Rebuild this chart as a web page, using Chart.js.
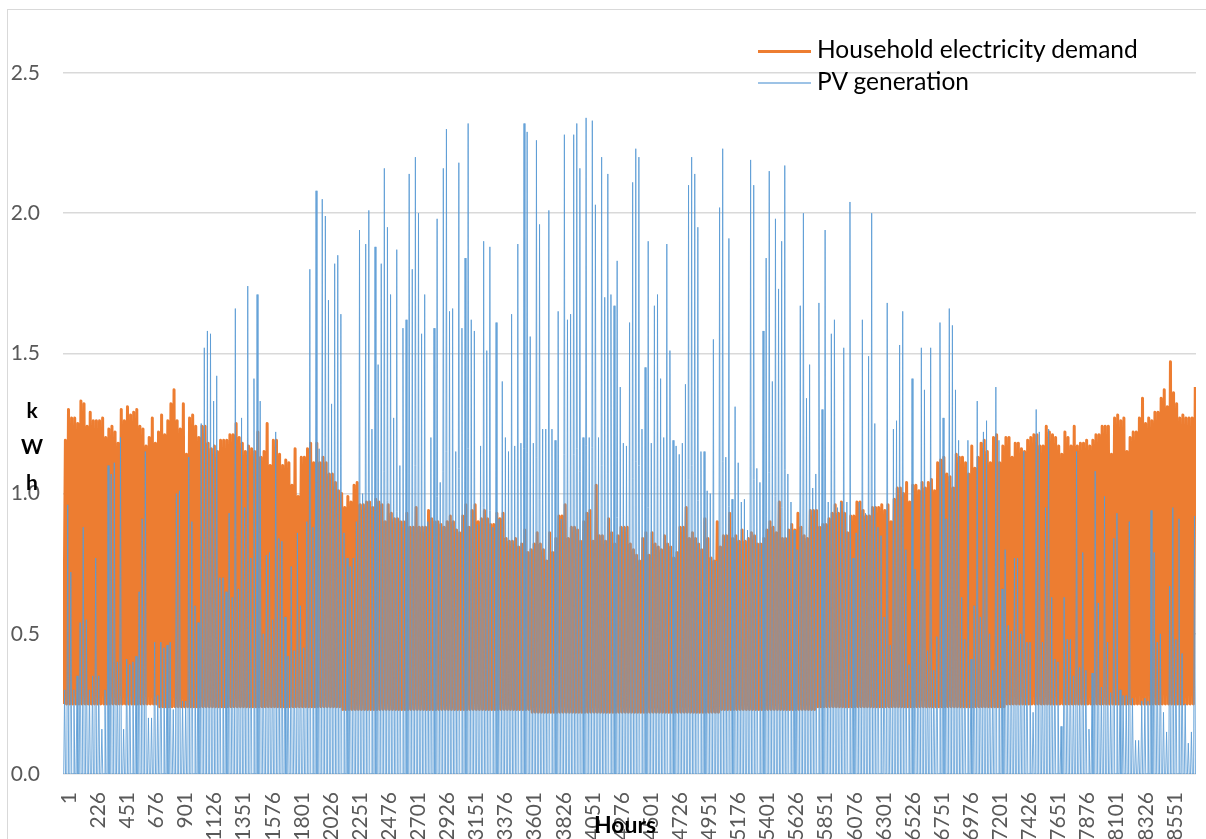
<!DOCTYPE html>
<html>
<head>
<meta charset="utf-8">
<script src="https://cdn.jsdelivr.net/npm/chart.js@4.4.0/dist/chart.umd.min.js"></script>
<style>
  body { margin: 0; background: #fff; }
  #wrap { position: relative; width: 1206px; height: 839px; overflow: hidden; font-family: Lato, "Open Sans", sans-serif; }
  #frame { position: absolute; left: 7px; top: 9px; width: 1300px; height: 900px; border: 1px solid #d9d9d9; }
  canvas { position: absolute; left: 0; top: 0; }
  .swatch { position: absolute; left: 758px; width: 53px; }
  .lgtext { position: absolute; left: 817px; font-size: 24.5px; line-height: 26px; color: #000; white-space: nowrap; }
  #ytitle { position: absolute; left: 12px; top: 392px; width: 40px; text-align: center; font-weight: bold; font-size: 21px; line-height: 36px; color: #000; }
  #xtitle { position: absolute; left: 525px; top: 811px; width: 200px; text-align: center; font-weight: bold; font-size: 23px; line-height: 26px; color: #000; }
</style>
</head>
<body>
<div id="wrap">
  <div id="frame"></div>
  <canvas id="chart" width="1206" height="839"></canvas>
  <div class="swatch" style="top:50px;height:3px;background:#ED7D31"></div>
  <div class="lgtext" style="top:36px">Household electricity demand</div>
  <div class="swatch" style="top:82px;height:2px;background:#9DC3E6"></div>
  <div class="lgtext" style="top:68px">PV generation</div>
  <div id="ytitle">k<br>W<br>h</div>
  <div id="xtitle">Hours</div>
</div>
<script>
// x axis labels (hour index, every 225 hours)
const xTickLabels = [1, 226, 451, 676, 901, 1126, 1351, 1576, 1801, 2026, 2251, 2476, 2701, 2926,
  3151, 3376, 3601, 3826, 4051, 4276, 4501, 4726, 4951, 5176, 5401, 5626, 5851, 6076, 6301,
  6526, 6751, 6976, 7201, 7426, 7651, 7876, 8101, 8326, 8551];
const yTickLabels = ['0.0', '0.5', '1.0', '1.5', '2.0', '2.5'];

// PV generation, daily peak (kWh), day 1..365
const pvDailyPeak = [
  0.30,0.96,0.72,0.30,0.35,0.54,0.88,0.55,0.30,0.35,
  0.77,0.35,0.16,0.30,1.10,1.07,1.11,0.40,1.20,0.16,
  0.41,0.39,0.40,0.42,0.65,0.91,1.15,0.20,0.20,0.47,
  0.28,0.47,0.45,0.46,0.47,0.23,1.00,1.01,0.26,0.26,
  1.13,0.90,0.60,0.54,1.25,1.52,1.58,1.57,1.33,1.42,
  0.70,0.70,0.65,0.93,0.63,1.66,0.66,1.27,0.95,1.74,
  0.77,1.41,1.71,1.33,0.50,0.78,0.79,0.55,1.22,0.84,
  0.83,0.56,0.42,0.74,0.44,0.86,0.60,0.45,0.90,1.80,
  0.88,2.08,1.16,2.05,1.99,1.69,1.32,1.82,1.85,1.64,
  0.86,0.77,0.74,0.77,0.90,1.94,1.00,1.89,2.01,1.23,
  1.88,1.46,1.82,2.16,1.95,1.71,1.27,1.87,1.10,1.59,
  1.62,2.14,1.80,2.20,2.00,1.57,1.71,0.90,1.20,1.59,
  1.98,1.04,2.16,2.30,1.65,1.66,1.15,2.18,1.59,1.84,
  2.32,1.62,1.58,0.89,1.17,1.90,1.51,1.88,0.88,1.61,
  0.91,1.40,1.20,1.15,1.64,1.17,1.89,1.18,2.32,2.29,
  1.56,1.18,2.26,1.96,1.23,1.23,2.01,1.23,1.19,1.65,
  0.91,2.28,1.62,1.64,2.28,2.32,2.16,1.20,2.34,1.20,
  2.33,2.03,1.20,2.20,1.70,2.14,1.71,1.67,1.83,1.38,
  1.18,1.17,1.61,2.11,2.23,2.20,1.23,1.45,1.90,1.18,
  1.67,1.71,1.41,1.20,1.89,1.51,1.19,1.17,1.14,1.18,
  1.39,2.10,2.20,2.14,1.95,1.15,1.15,1.01,1.00,1.55,
  0.76,2.02,2.23,1.13,1.91,0.98,1.31,1.11,0.97,0.98,
  0.87,2.19,2.10,1.09,1.04,1.58,1.84,2.15,1.40,1.98,
  1.73,1.90,2.17,1.07,0.97,0.87,0.80,1.67,2.00,1.34,
  1.46,1.02,1.07,1.68,1.30,1.94,0.97,1.57,1.62,0.95,
  0.97,1.52,0.97,2.04,0.77,0.86,0.97,1.62,0.93,1.49,
  2.00,1.25,0.88,0.85,0.56,1.68,0.46,1.23,1.26,1.53,
  1.65,0.80,0.39,1.41,0.73,0.69,1.52,1.37,0.44,1.52,
  0.37,0.49,1.61,1.27,0.91,1.66,1.60,1.37,1.19,0.63,
  0.48,1.19,0.41,0.60,1.33,0.56,1.22,1.26,0.50,0.37,
  1.38,1.19,0.66,0.80,0.53,0.51,0.77,0.77,0.50,1.15,
  0.47,0.47,0.22,1.30,1.22,0.47,0.95,1.23,0.63,0.41,
  0.40,0.17,0.63,0.48,0.48,0.35,1.15,0.38,0.79,0.37,
  0.16,0.36,1.08,0.61,0.31,0.99,0.47,0.29,0.84,0.93,
  0.30,0.28,0.28,0.90,0.27,0.12,0.12,0.26,0.27,0.26,
  0.94,0.79,0.47,0.50,0.22,0.15,0.67,0.95,0.48,0.91,
  0.43,0.25,0.11,0.15,0.92
];

// Household electricity demand, daily peak (kWh), day 1..365
const demandDailyPeak = [
  1.19,1.30,1.27,1.27,1.25,1.33,1.32,1.24,1.29,1.26,
  1.26,1.26,1.27,1.20,1.23,1.24,1.22,1.18,1.30,1.26,
  1.31,1.28,1.29,1.30,1.24,1.23,1.17,1.20,1.27,1.18,
  1.22,1.28,1.21,1.26,1.32,1.37,1.26,1.23,1.32,1.14,
  1.27,1.28,1.24,1.20,1.24,1.24,1.18,1.16,1.17,1.15,
  1.19,1.19,1.19,1.21,1.21,1.25,1.20,1.18,1.15,1.17,
  1.16,1.15,1.22,1.13,1.15,1.25,1.10,1.19,1.19,1.14,
  1.10,1.12,1.11,1.03,1.16,0.99,1.13,1.13,1.16,1.18,
  1.11,1.18,1.11,1.13,1.11,1.07,1.07,1.04,1.01,1.00,
  0.95,0.99,0.97,1.03,1.04,0.96,0.96,0.97,0.97,0.95,
  0.98,0.97,0.96,0.90,0.96,0.93,0.91,0.91,0.90,0.90,
  0.93,0.88,0.88,0.95,0.88,0.88,0.88,0.94,0.91,0.90,
  0.90,0.89,0.88,0.90,0.92,0.90,0.87,0.86,0.92,0.96,
  0.88,0.94,0.96,0.90,0.91,0.94,0.91,0.89,0.89,0.93,
  0.91,0.93,0.84,0.83,0.83,0.84,0.81,0.82,0.87,0.79,
  0.80,0.82,0.86,0.82,0.80,0.76,0.86,0.79,0.84,0.92,
  0.92,0.96,0.84,0.88,0.88,0.87,0.83,0.90,0.93,0.94,
  0.83,1.03,0.85,0.85,0.83,0.91,0.86,0.82,0.85,0.88,
  0.88,0.88,0.82,0.80,0.78,0.76,0.84,0.86,0.78,0.86,
  0.82,0.81,0.80,0.85,0.82,0.81,0.77,0.79,0.88,0.88,
  0.95,0.84,0.86,0.84,0.82,0.80,0.91,0.84,0.77,0.76,
  0.90,0.81,0.85,0.85,0.93,0.84,0.85,0.83,0.87,0.83,
  0.84,0.86,0.85,0.82,0.82,0.84,0.87,0.90,0.88,0.86,
  0.97,0.84,0.84,0.87,0.89,0.87,0.93,0.88,0.85,0.84,
  0.94,0.94,0.94,0.88,0.89,0.89,0.91,0.93,0.96,0.93,
  0.97,0.93,0.86,0.92,0.92,0.97,0.97,0.94,0.92,0.92,
  0.95,0.95,0.95,0.96,0.94,0.96,0.90,0.98,1.02,1.02,
  1.00,1.04,0.97,1.03,1.03,1.01,1.04,1.02,1.04,1.05,
  1.01,1.11,1.12,1.13,1.07,1.06,1.02,1.14,1.13,1.13,
  1.11,1.07,1.17,1.09,1.13,1.18,1.19,1.15,1.11,1.20,
  1.21,1.11,1.17,1.20,1.20,1.13,1.18,1.18,1.16,1.15,
  1.19,1.20,1.21,1.21,1.17,1.17,1.24,1.22,1.21,1.20,
  1.17,1.14,1.22,1.20,1.17,1.24,1.17,1.18,1.18,1.19,
  1.17,1.19,1.21,1.21,1.24,1.24,1.24,1.14,1.27,1.28,
  1.26,1.27,1.15,1.20,1.22,1.22,1.27,1.34,1.25,1.27,
  1.26,1.29,1.29,1.34,1.37,1.31,1.47,1.36,1.32,1.27,
  1.28,1.27,1.27,1.27,1.38
];

// night-time demand floor per month (kWh)
const demandMonthlyLow = [0.25, 0.24, 0.24, 0.23, 0.23, 0.22, 0.22, 0.23, 0.24, 0.24, 0.25, 0.25];
const monthDays = [31, 28, 31, 30, 31, 30, 31, 31, 30, 31, 30, 31];

document.addEventListener("DOMContentLoaded", function () {
    const ctx = document.getElementById("chart").getContext("2d");

    // month index of every day
    const dayMonth = [];
    monthDays.forEach((n, m) => { for (let i = 0; i < n; i++) dayMonth.push(m); });

    // hourly positions: PV is zero at night, peaks around midday
    const pvPoints = [];
    pvDailyPeak.forEach((v, d) => {
        pvPoints.push({ x: d * 24 + 6, y: 0 });
        pvPoints.push({ x: d * 24 + 13, y: v });
        pvPoints.push({ x: d * 24 + 20, y: 0 });
    });

    const demandPoints = [];
    demandDailyPeak.forEach((v, d) => {
        demandPoints.push({ x: d * 24 + 4, y: demandMonthlyLow[dayMonth[d]] });
        demandPoints.push({ x: d * 24 + 19, y: v });
    });

    const tickFont = { family: 'Lato', size: 21 };

    new Chart(ctx, {
        type: 'line',
        data: {
            datasets: [
                {
                    label: 'PV generation',
                    data: pvPoints,
                    borderColor: 'rgba(91, 155, 213, 0.85)',
                    borderWidth: 1,
                    pointRadius: 0,
                    fill: false
                },
                {
                    label: 'Household electricity demand',
                    data: demandPoints,
                    borderColor: '#ED7D31',
                    borderWidth: 3,
                    pointRadius: 0,
                    fill: false
                }
            ]
        },
        options: {
            responsive: false,
            animation: false,
            devicePixelRatio: 1,
            layout: { padding: { top: 73, right: 10, left: 0, bottom: 0 } },
            elements: { line: { tension: 0, borderJoinStyle: 'round' } },
            plugins: {
                legend: { display: false },
                tooltip: { enabled: false }
            },
            scales: {
                x: {
                    type: 'linear',
                    min: 0.5,
                    max: 8760.5,
                    afterBuildTicks: s => { s.ticks = xTickLabels.map(v => ({ value: v })); },
                    afterFit: s => { s.height = 65; },
                    grid: { display: false },
                    border: { display: false },
                    ticks: {
                        autoSkip: false,
                        minRotation: 90,
                        maxRotation: 90,
                        padding: 10,
                        labelOffset: 6,
                        color: '#595959',
                        font: tickFont,
                        callback: v => String(v)
                    }
                },
                y: {
                    min: 0,
                    max: 2.5,
                    afterBuildTicks: s => { s.ticks = yTickLabels.map(t => ({ value: parseFloat(t) })); },
                    afterFit: s => { s.width = 63; },
                    grid: { color: '#d9d9d9', lineWidth: 1.5, drawTicks: false },
                    border: { display: false },
                    ticks: {
                        padding: 23,
                        color: '#595959',
                        font: tickFont,
                        callback: v => v.toFixed(1)
                    }
                }
            }
        }
    });
});
</script>
</body>
</html>
